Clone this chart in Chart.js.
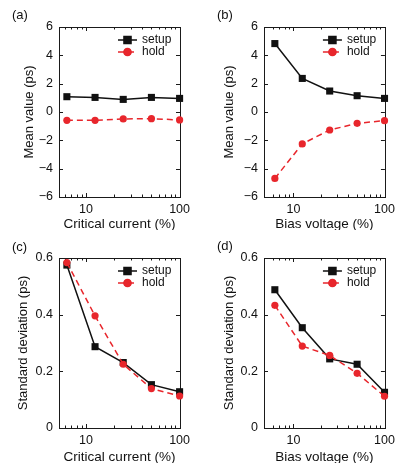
<!DOCTYPE html>
<html>
<head>
<meta charset="utf-8">
<script src="https://cdn.jsdelivr.net/npm/chart.js@4.4.1/dist/chart.umd.min.js"></script>
<style>
    html, body { margin: 0; padding: 0; background: #fff; }
    #figure { position: relative; width: 400px; height: 463px; }
    canvas { position: absolute; }
</style>
</head>
<body>
<div id="figure">
    <canvas id="panelA" width="200" height="230" style="left:0;top:0"></canvas>
    <canvas id="panelB" width="200" height="230" style="left:200px;top:0"></canvas>
    <canvas id="panelC" width="200" height="233" style="left:0;top:230px"></canvas>
    <canvas id="panelD" width="200" height="233" style="left:200px;top:230px"></canvas>
</div>
<script>
const percents = [6.25, 12.5, 25, 50, 100];

const setupMeanCurrent = [1.08, 1.03, 0.89, 1.03, 0.96];
const holdMeanCurrent = [-0.59, -0.59, -0.49, -0.47, -0.56];
const setupMeanVoltage = [4.83, 2.37, 1.48, 1.15, 0.96];
const holdMeanVoltage = [-4.69, -2.25, -1.27, -0.80, -0.61];

const setupStdCurrent = [0.575, 0.287, 0.231, 0.153, 0.128];
const holdStdCurrent = [0.584, 0.396, 0.225, 0.139, 0.113];
const setupStdVoltage = [0.488, 0.354, 0.244, 0.225, 0.126];
const holdStdVoltage = [0.433, 0.289, 0.256, 0.193, 0.112];

const xTicks = [6, 7, 8, 9, 10, 20, 30, 40, 50, 60, 70, 80, 90, 100];
const xLabels = [10, 100];
const meanTicks = [-6, -4, -2, 0, 2, 4, 6];
const stdTicks = [0, 0.2, 0.4, 0.6];
const seriesNames = ['setup', 'hold'];

const BLACK = '#111111';
const RED = '#e8262c';
const FONT = '"Liberation Sans", Arial, sans-serif';

const framePlugin = {
    id: 'frame',
    beforeDatasetsDraw(chart) {
        const {ctx, chartArea: a, scales: {x, y}} = chart;
        ctx.save();
        ctx.strokeStyle = '#1a1a1a';
        ctx.lineWidth = 1;
        ctx.strokeRect(Math.round(a.left) + 0.5, Math.round(a.top) + 0.5,
            Math.round(a.right - a.left), Math.round(a.bottom - a.top));
        ctx.beginPath();
        x.ticks.forEach(t => {
            const px = Math.round(x.getPixelForValue(t.value)) + 0.5;
            const len = xLabels.includes(t.value) ? 4 : 2.5;
            ctx.moveTo(px, a.bottom); ctx.lineTo(px, a.bottom - len);
            ctx.moveTo(px, a.top); ctx.lineTo(px, a.top + len);
        });
        y.ticks.forEach(t => {
            const py = Math.round(y.getPixelForValue(t.value)) + 0.5;
            ctx.moveTo(a.left, py); ctx.lineTo(a.left + 4, py);
            ctx.moveTo(a.right, py); ctx.lineTo(a.right - 4, py);
        });
        ctx.stroke();
        ctx.restore();
    },
    afterDatasetsDraw(chart, args, opts) {
        const {ctx, chartArea: a} = chart;
        ctx.save();
        const x0 = a.right - 62, x1 = a.right - 43, xt = a.right - 38;
        chart.data.datasets.forEach((ds, i) => {
            const yy = a.top + 13 + i * 12;
            ctx.strokeStyle = ds.borderColor;
            ctx.lineWidth = 1.5;
            ctx.setLineDash(ds.borderDash || []);
            ctx.beginPath();
            ctx.moveTo(x0, yy); ctx.lineTo(x1 + (ds.borderDash ? 1 : 0), yy);
            ctx.stroke();
            ctx.setLineDash([]);
            Chart.helpers.drawPoint(ctx, {
                pointStyle: ds.pointStyle, radius: ds.pointRadius, borderWidth: 1
            }, (x0 + x1) / 2, yy);
            ctx.fillStyle = ds.borderColor;
            ctx.fill();
            ctx.fillStyle = BLACK;
            ctx.font = '12px ' + FONT;
            ctx.textBaseline = 'middle';
            ctx.fillText(ds.label, xt, yy);
        });
        ctx.font = '13px ' + FONT;
        ctx.textBaseline = 'middle';
        ctx.fillStyle = BLACK;
        ctx.fillText(opts.label, opts.labelX, opts.labelY);
        ctx.restore();
    }
};

function makeSeries(values) {
    return percents.map((p, i) => ({x: p, y: values[i]}));
}

function createPanel(id, opts) {
    const canvas = document.querySelector(id);
    return new Chart(canvas, {
        type: 'line',
        data: {
            datasets: [{
                label: seriesNames[0],
                data: makeSeries(opts.setup),
                borderColor: BLACK,
                backgroundColor: BLACK,
                borderWidth: 1.5,
                pointStyle: 'rect',
                pointRadius: 5,
                pointBorderWidth: 0,
                clip: false,
                order: 1
            }, {
                label: seriesNames[1],
                data: makeSeries(opts.hold),
                borderColor: RED,
                backgroundColor: RED,
                borderWidth: 1.5,
                borderDash: [6, 4],
                pointStyle: 'circle',
                pointRadius: 3.6,
                pointBorderWidth: 0,
                clip: false,
                order: 0
            }]
        },
        options: {
            responsive: false,
            animation: false,
            events: [],
            layout: {padding: {left: 0, right: opts.padRight, top: opts.padTop, bottom: 0}},
            plugins: {
                legend: {display: false},
                tooltip: {enabled: false},
                frame: {label: opts.label, labelX: opts.labelX, labelY: opts.labelY}
            },
            scales: {
                x: {
                    type: 'logarithmic',
                    min: opts.xMin,
                    max: opts.xMax,
                    afterBuildTicks: s => { s.ticks = xTicks.map(v => ({value: v})); },
                    afterFit: s => { s.height = opts.xHeight; },
                    grid: {display: false, drawTicks: false},
                    border: {display: false},
                    ticks: {
                        autoSkip: false, maxRotation: 0, padding: 5, color: BLACK,
                        font: {size: 12.5, family: FONT},
                        callback: v => xLabels.includes(v) ? String(v) : ''
                    },
                    title: {
                        display: true, text: opts.xTitle, color: BLACK,
                        font: {size: 13.5, family: FONT},
                        padding: {top: 0, bottom: -2}
                    }
                },
                y: {
                    min: opts.yTicks[0],
                    max: opts.yTicks[opts.yTicks.length - 1],
                    afterBuildTicks: s => { s.ticks = opts.yTicks.map(v => ({value: v})); },
                    afterFit: s => { s.width = opts.yWidth; },
                    grid: {display: false, drawTicks: false},
                    border: {display: false},
                    ticks: {
                        padding: 6, color: BLACK,
                        font: {size: 12.5, family: FONT},
                        callback: v => String(v).replace('-', '\u2212')
                    },
                    title: {
                        display: true, text: opts.yTitle, color: BLACK,
                        font: {size: 13, family: FONT},
                        padding: {top: opts.yTitlePad, bottom: 0}
                    }
                }
            }
        },
        plugins: [framePlugin]
    });
}

window.addEventListener('load', () => {
    createPanel('#panelA', {
        setup: setupMeanCurrent, hold: holdMeanCurrent, yTicks: meanTicks,
        xTitle: 'Critical current (%)', yTitle: 'Mean value (ps)',
        label: '(a)', labelX: 12, labelY: 15,
        xMin: 5.15, xMax: 101, yWidth: 59, padRight: 20, padTop: 27, xHeight: 33, yTitlePad: 22
    });
    createPanel('#panelB', {
        setup: setupMeanVoltage, hold: holdMeanVoltage, yTicks: meanTicks,
        xTitle: 'Bias voltage (%)', yTitle: 'Mean value (ps)',
        label: '(b)', labelX: 17, labelY: 15,
        xMin: 4.75, xMax: 101, yWidth: 64, padRight: 13, padTop: 27, xHeight: 33, yTitlePad: 22
    });
    createPanel('#panelC', {
        setup: setupStdCurrent, hold: holdStdCurrent, yTicks: stdTicks,
        xTitle: 'Critical current (%)', yTitle: 'Standard deviation (ps)',
        label: '(c)', labelX: 12, labelY: 17,
        xMin: 5.15, xMax: 101, yWidth: 59, padRight: 20, padTop: 28, xHeight: 35, yTitlePad: 15.5
    });
    createPanel('#panelD', {
        setup: setupStdVoltage, hold: holdStdVoltage, yTicks: stdTicks,
        xTitle: 'Bias voltage (%)', yTitle: 'Standard deviation (ps)',
        label: '(d)', labelX: 17, labelY: 16,
        xMin: 4.75, xMax: 101, yWidth: 64, padRight: 13, padTop: 28, xHeight: 35, yTitlePad: 21.5
    });
});
</script>
</body>
</html>
